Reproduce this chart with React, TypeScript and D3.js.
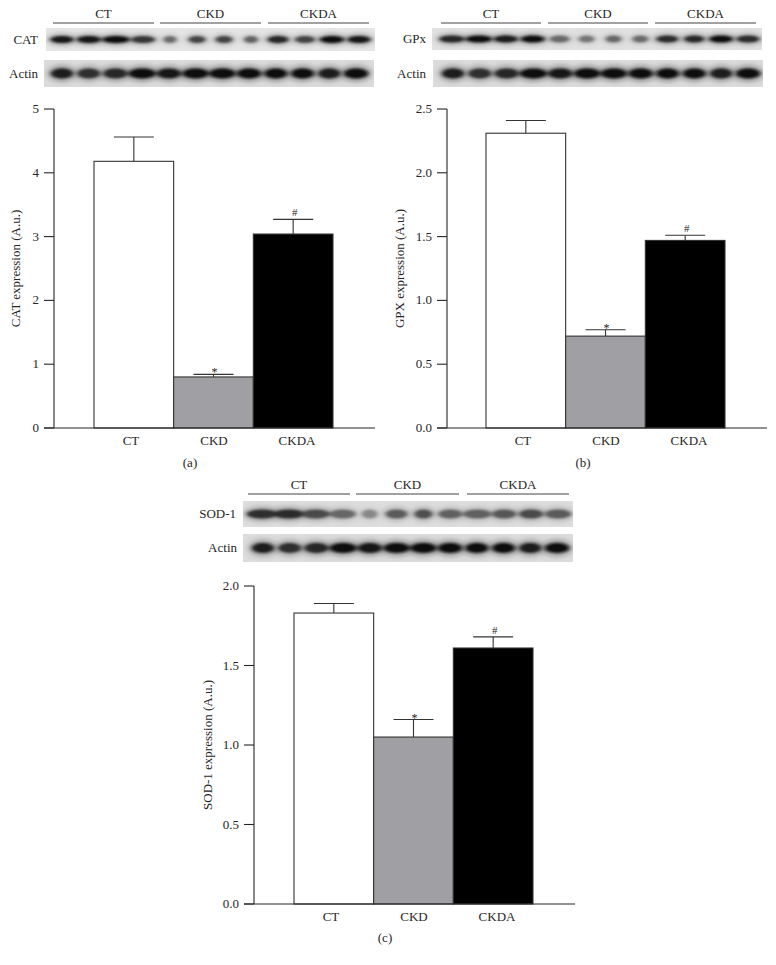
import React from "react";
import * as d3 from "d3";

const groups = ["CT", "CKD", "CKDA"];

// bar heights and the top of each error whisker
const catValues = [4.18, 0.8, 3.04];
const catTops = [4.56, 0.84, 3.27];
const gpxValues = [2.31, 0.72, 1.47];
const gpxTops = [2.41, 0.77, 1.51];
const sodValues = [1.83, 1.05, 1.61];
const sodTops = [1.89, 1.16, 1.68];

const catTicks = [0, 1, 2, 3, 4, 5];
const ratioTicks25 = [0, 0.5, 1, 1.5, 2, 2.5];
const ratioTicks20 = [0, 0.5, 1, 1.5, 2];

const fills = ["#ffffff", "#a09fa4", "#000000"];

// blot lanes: band darkness 0-1 and band width in px
const catDark = [0.95, 0.95, 1, 0.75, 0.4, 0.65, 0.65, 0.45, 0.85, 0.65, 1, 0.95];
const catWide = [23, 24, 27, 24, 13, 17, 17, 14, 21, 20, 24, 23];
const gpxDark = [0.85, 0.98, 0.9, 0.98, 0.4, 0.32, 0.42, 0.4, 0.8, 0.85, 0.98, 0.8];
const gpxWide = [25, 26, 24, 24, 20, 16, 16, 16, 22, 20, 24, 23];
const sodDark = [0.78, 0.8, 0.6, 0.42, 0.2, 0.5, 0.58, 0.45, 0.45, 0.52, 0.6, 0.5];
const sodWide = [30, 30, 28, 26, 16, 22, 18, 24, 28, 24, 24, 26];
const actinDark = [0.92, 0.78, 0.85, 0.98, 0.95, 1, 1, 1, 0.98, 0.98, 0.92, 1];
const actinWide = [22, 23, 24, 27, 24, 26, 26, 24, 23, 23, 22, 24];
const lanes = d3.range(12);

const serif = "'Liberation Serif', serif";
const ink = "#262626";

type BlotProps = {
  id: string;
  x: number;
  y: number;
  width: number;
  height: number;
  laneStart: number;
  laneEnd: number;
  dark: number[];
  wide: number[];
  bandH: number;
  label: string;
  labelX: number;
  bg: string;
};

const Blot = ({ id, x, y, width, height, laneStart, laneEnd, dark, wide, bandH, label, labelX, bg }: BlotProps) => {
  const lane = d3.scalePoint<number>().domain(lanes).range([laneStart, laneEnd]);
  const grey = d3.scaleLinear().domain([0, 1]).range([165, 14]);
  return (
    <g>
      <clipPath id={id}>
        <rect x={x} y={y} width={width} height={height} />
      </clipPath>
      <rect x={x} y={y} width={width} height={height} fill={bg} />
      <g clipPath={`url(#${id})`}>
        <g filter="url(#halo)">
          {lanes.map((i) => (
            <ellipse key={i} cx={lane(i)} cy={y + height / 2} rx={wide[i] / 2 + 3} ry={bandH * 0.85} fill="#666" opacity={dark[i] * 0.6} />
          ))}
        </g>
        <g filter="url(#soft)">
          {lanes.map((i) => {
            const g = Math.round(grey(dark[i]));
            return <ellipse key={i} cx={lane(i)} cy={y + height / 2} rx={wide[i] / 2} ry={bandH / 2} fill={`rgb(${g},${g},${g})`} />;
          })}
        </g>
      </g>
      <text x={labelX} y={y + height / 2 + 4} textAnchor="end" fontSize={13}>
        {label}
      </text>
    </g>
  );
};

type BarsProps = {
  axisX: number;
  barStart: number;
  barEnd: number;
  right: number;
  top: number;
  bottom: number;
  max: number;
  ticks: number[];
  format: (d: number) => string;
  values: number[];
  tops: number[];
  yLabel: string;
  yLabelX: number;
  caption: string;
  captionX: number;
  captionY: number;
};

const Bars = ({ axisX, barStart, barEnd, right, top, bottom, max, ticks, format, values, tops, yLabel, yLabelX, caption, captionX, captionY }: BarsProps) => {
  const y = d3.scaleLinear().domain([0, max]).range([bottom, top]);
  const x = d3.scaleBand().domain(groups).range([barStart, barEnd]);
  // the category labels sit a little wider apart than the bars
  const labelX = d3.scalePoint().domain(groups).range([barStart + 37, barStart + 203]);
  return (
    <g>
      {groups.map((g, i) => {
        const cx = x(g)! + x.bandwidth() / 2;
        return (
          <g key={g}>
            <line x1={cx} x2={cx} y1={y(values[i])} y2={y(tops[i])} stroke="#333" strokeWidth={1.1} />
            <line x1={cx - 20} x2={cx + 20} y1={y(tops[i])} y2={y(tops[i])} stroke="#333" strokeWidth={1.1} />
            <rect
              x={x(g)}
              y={y(values[i])}
              width={x.bandwidth()}
              height={bottom - y(values[i])}
              fill={fills[i]}
              stroke="#333"
              strokeWidth={1.1}
            />
            <text x={labelX(g)} y={bottom + 17} textAnchor="middle" fontSize={13}>
              {g}
            </text>
            {i === 1 && (
              <text x={cx + 1} y={y(tops[i]) + 2} textAnchor="middle" fontSize={12}>
                *
              </text>
            )}
            {i === 2 && (
              <text x={cx + 1.5} y={y(tops[i]) - 3} textAnchor="middle" fontSize={11}>
                #
              </text>
            )}
          </g>
        );
      })}
      <line x1={axisX} x2={axisX} y1={top} y2={bottom} stroke={ink} strokeWidth={1.1} />
      <line x1={axisX - 10} x2={right} y1={bottom} y2={bottom} stroke={ink} strokeWidth={1.1} />
      {ticks.map((t) => (
        <g key={t}>
          <line x1={axisX - 10} x2={axisX} y1={y(t)} y2={y(t)} stroke={ink} strokeWidth={1.1} />
          <text x={axisX - 15} y={y(t) + 4} textAnchor="end" fontSize={13}>
            {format(t)}
          </text>
        </g>
      ))}
      <text transform={`translate(${yLabelX},${(top + bottom) / 2}) rotate(-90)`} textAnchor="middle" fontSize={13}>
        {yLabel}
      </text>
      <text x={captionX} y={captionY} textAnchor="middle" fontSize={13}>
        {caption}
      </text>
    </g>
  );
};

const GroupLines = ({ spans, y }: { spans: number[][]; y: number }) => (
  <g>
    {groups.map((g, i) => (
      <g key={g}>
        <text x={(spans[i][0] + spans[i][1]) / 2} y={y - 5} textAnchor="middle" fontSize={13}>
          {g}
        </text>
        <line x1={spans[i][0]} x2={spans[i][1]} y1={y} y2={y} stroke="#444" strokeWidth={1.1} />
      </g>
    ))}
  </g>
);

const App = () => {
  const fixed1 = d3.format(".1f");
  const plain = d3.format("d");
  return (
    <svg width={776} height={965} style={{ position: "absolute", left: 0, top: 0, background: "#fff" }} fontFamily={serif} fill={ink}>
      <defs>
        <filter id="soft" x="-30%" y="-80%" width="160%" height="260%">
          <feGaussianBlur stdDeviation="2 1.3" />
        </filter>
        <filter id="halo" x="-30%" y="-80%" width="160%" height="260%">
          <feGaussianBlur stdDeviation="3.5 2.5" />
        </filter>
      </defs>

      {/* panel a */}
      <GroupLines spans={[[53, 154], [160, 261], [268, 369]]} y={23} />
      <Blot id="b1" x={46} y={28} width={329} height={23} laneStart={62} laneEnd={359} dark={catDark} wide={catWide} bandH={7} label="CAT" labelX={38} bg="#e6e6e6" />
      <Blot id="b2" x={44} y={60} width={330} height={27} laneStart={62} laneEnd={356} dark={actinDark} wide={actinWide} bandH={10} label="Actin" labelX={38} bg="#dcdcdc" />
      <Bars axisX={54} barStart={94} barEnd={333} right={375} top={109} bottom={428} max={5} ticks={catTicks} format={plain} values={catValues} tops={catTops} yLabel="CAT expression (A.u.)" yLabelX={20} caption="(a)" captionX={190} captionY={467} />

      {/* panel b */}
      <GroupLines spans={[[441, 541], [548, 648], [655, 756]]} y={23} />
      <Blot id="b3" x={432} y={28} width={330} height={22} laneStart={452} laneEnd={748} dark={gpxDark} wide={gpxWide} bandH={7} label="GPx" labelX={426} bg="#e2e2e2" />
      <Blot id="b4" x={433} y={60} width={330} height={27} laneStart={453} laneEnd={748} dark={actinDark} wide={actinWide} bandH={10} label="Actin" labelX={426} bg="#dcdcdc" />
      <Bars axisX={447} barStart={486} barEnd={725} right={767} top={109} bottom={428} max={2.5} ticks={ratioTicks25} format={fixed1} values={gpxValues} tops={gpxTops} yLabel="GPX expression (A.u.)" yLabelX={404} caption="(b)" captionX={583} captionY={467} />

      {/* panel c */}
      <GroupLines spans={[[248, 350], [356, 459], [467, 569]]} y={494} />
      <Blot id="b5" x={243} y={501} width={330} height={26} laneStart={262} laneEnd={558} dark={sodDark} wide={sodWide} bandH={9} label="SOD-1" labelX={236} bg="#dedede" />
      <Blot id="b6" x={243} y={534} width={330} height={28} laneStart={263} laneEnd={557} dark={actinDark} wide={actinWide} bandH={10} label="Actin" labelX={237} bg="#dcdcdc" />
      <Bars axisX={254} barStart={294} barEnd={533} right={575} top={586} bottom={904} max={2} ticks={ratioTicks20} format={fixed1} values={sodValues} tops={sodTops} yLabel="SOD-1 expression (A.u.)" yLabelX={212} caption="(c)" captionX={385} captionY={942} />
    </svg>
  );
};

export default App;
